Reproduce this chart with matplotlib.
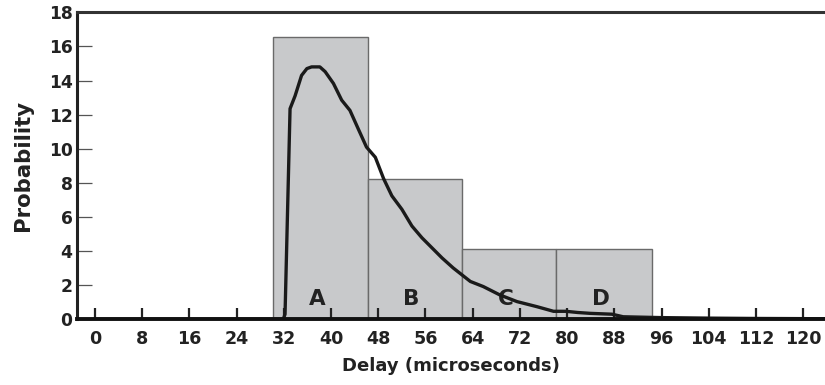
import matplotlib
matplotlib.use("Agg")
import matplotlib.pyplot as plt

plt.rcParams['font.family'] = ['DejaVu Sans']
plt.rcParams['font.weight'] = 'bold'

# Histogram bins (delay ranges) and heights
bin_labels = ["A", "B", "C", "D"]
bin_edges = [30.2, 46.2, 62.2, 78.2, 94.3]
bin_heights = [16.55, 8.25, 4.12, 4.12]

# Delay probability curve
curve_x = [0, 31.9, 32.2, 33.05, 33.9, 35.0, 35.9, 36.7, 38.1, 39.0, 40.4, 41.8,
           43.2, 44.6, 46.0, 47.5, 48.9, 50.3, 52.0, 53.7, 55.4, 57.1, 58.8,
           60.7, 63.6, 65.8, 68.6, 71.5, 74.9, 77.7, 79.8, 81.8, 83.9, 87.6,
           89.5, 96, 104, 112, 120, 124]
curve_y = [0, 0, 0.3, 12.35, 13.1, 14.3, 14.7, 14.8, 14.8, 14.52, 13.83, 12.85,
           12.25, 11.17, 10.1, 9.5, 8.25, 7.24, 6.45, 5.47, 4.78, 4.19, 3.6,
           3.01, 2.22, 1.92, 1.43, 1.04, 0.74, 0.47, 0.47, 0.4, 0.35, 0.3,
           0.15, 0.1, 0.07, 0.05, 0.04, 0.03]

x_ticks = list(range(0, 121, 8))
y_ticks = list(range(0, 19, 2))

fig = plt.figure(figsize=(8.25, 3.85), dpi=100)
ax = fig.add_axes([0.093, 0.1706, 0.907, 0.7974])

widths = [bin_edges[i + 1] - bin_edges[i] for i in range(len(bin_heights))]
ax.bar(bin_edges[:-1], bin_heights, width=widths, align='edge',
       color='#c8c9cb', edgecolor='#6a6a6a', linewidth=1.0, zorder=1)

for i, lab in enumerate(bin_labels):
    cx = bin_edges[i] + widths[i] / 2 - 0.6
    ax.text(cx, 1.2, lab, ha='center', va='center', fontsize=15.5,
            fontweight='bold', color='#222222', zorder=3)

ax.plot(curve_x, curve_y, color='#1a1a1a', linewidth=2.4,
        solid_joinstyle='round', zorder=4)

ax.set_xlim(-3.1, 123.7)
ax.set_ylim(0, 18)
ax.set_xticks(x_ticks)
ax.set_yticks(y_ticks)
ax.tick_params(axis='x', direction='in', length=8, width=1.6, color='#222222',
               pad=8, labelsize=12.6)
ax.tick_params(axis='y', direction='in', length=10.8, width=0.9, color='#555555',
               pad=3, labelsize=12.3)
for lab in ax.get_xticklabels() + ax.get_yticklabels():
    lab.set_fontweight('bold')
    lab.set_color('#222222')

ax.spines['right'].set_visible(False)
ax.spines['left'].set_linewidth(2.2)
ax.spines['left'].set_color('#222222')
ax.spines['top'].set_linewidth(2.2)
ax.spines['top'].set_color('#333333')
ax.spines['bottom'].set_linewidth(2.8)
ax.spines['bottom'].set_color('#111111')
ax.spines['bottom'].set_zorder(5)

ax.set_xlabel('Delay (microseconds)', fontsize=13, fontweight='bold',
              color='#222222', labelpad=6)
ax.set_ylabel('Probability', fontsize=15.3, fontweight='bold',
              color='#222222', labelpad=11)

fig.savefig('out.png', dpi=100)
